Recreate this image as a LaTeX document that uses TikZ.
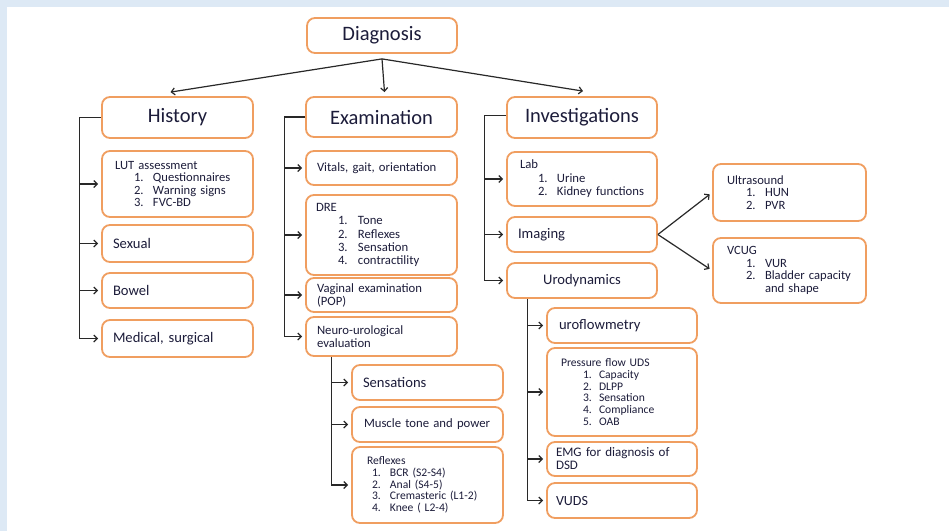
\documentclass[tikz,border=0pt]{standalone}
\usepackage{fontspec}
\setmainfont{Carlito}
\usetikzlibrary{arrows.meta,calc}
\definecolor{boxc}{RGB}{240,158,96}
\definecolor{txt}{RGB}{28,28,58}
\definecolor{lnc}{RGB}{40,40,40}
\definecolor{bgb}{RGB}{221,233,245}
\tikzset{
  box/.style={draw=boxc, line width=1.8pt, rounded corners=8pt, fill=white, text=txt, inner ysep=0pt, align=left},
  ctr/.style={align=center},
  ftitle/.style={font=\fontsize{20.5}{24}\selectfont},
  fmid/.style={font=\fontsize{14.6}{16}\selectfont},
  fsm/.style={font=\fontsize{12.7}{13}\selectfont},
  ftiny/.style={font=\fontsize{11.6}{11.7}\selectfont},
  conn/.style={draw=lnc, line width=1.2pt},
  arr/.style={conn, -{Straight Barb[length=3.5pt,width=7pt]}, shorten >=3pt}
}
\newcommand{\bx}[8][]{%
  \pgfmathsetmacro{\bw}{#5-#3}\pgfmathsetmacro{\bh}{#6-#4}%
  \pgfmathsetmacro{\bcx}{(#3+#5)/2}\pgfmathsetmacro{\bcy}{(#4+#6)/2}%
  \pgfmathsetmacro{\btw}{#5-#3-2*#7}%
  \node[box, minimum width=\bw pt, minimum height=\bh pt, inner xsep=#7pt, text width=\btw pt, #1] (#2) at (\bcx,\bcy) {#8};}
\newcommand{\itm}[4]{\hspace*{#1}\makebox[#2][l]{#3}\mbox{#4}}
\begin{document}
\begin{tikzpicture}[x=1pt,y=-1pt]
\useasboundingbox (0,0) rectangle (949,531);
\fill[white] (0,0) rectangle (949,531);
\fill[bgb] (0,0) rectangle (949,6.5);
\fill[bgb] (0,0) rectangle (7,531);

% top level
\bx[ctr,ftitle]{diag}{307}{18}{457}{53}{2}{Diagnosis}
\bx[ctr,ftitle]{hist}{102}{97}{253}{138}{2}{History}
\bx[ctr,ftitle]{exam}{306}{97}{457}{137}{2}{Examination}
\bx[ctr,ftitle]{inv}{507}{97}{657}{138}{2}{Investigations}

% history column
\bx[fsm,font=\fontsize{12.6}{12.4}\selectfont]{lut}{102}{151}{253}{217}{13}{LUT assessment\\
\itm{19pt}{19pt}{1.}{Questionnaires}\\
\itm{19pt}{19pt}{2.}{Warning signs}\\
\itm{19pt}{19pt}{3.}{FVC-BD}}
\bx[fmid]{sex}{102}{225}{253}{262}{11}{Sexual}
\bx[fmid]{bow}{102}{273}{253}{308}{11}{Bowel}
\bx[fmid]{med}{102}{320}{253}{357}{11}{Medical, surgical}

% examination column
\bx[fsm]{vit}{306}{151}{457}{185}{11}{Vitals, gait, orientation}
\bx[fsm,font=\fontsize{12.7}{13.4}\selectfont]{dre}{306}{195}{457}{275}{10}{DRE\\
\itm{22pt}{20pt}{1.}{Tone}\\
\itm{22pt}{20pt}{2.}{Reflexes}\\
\itm{22pt}{20pt}{3.}{Sensation}\\
\itm{22pt}{20pt}{4.}{contractility}}
\bx[fsm]{vag}{306}{278}{457}{312}{11}{Vaginal examination\\(POP)}
\bx[fsm]{neu}{306}{317}{457}{356}{11}{Neuro-urological\\evaluation}
\bx[fmid]{sen}{352}{365}{503}{400}{11}{Sensations}
\bx[fsm]{mus}{352}{407}{503}{442}{12}{Muscle tone and power}
\bx[ftiny]{ref}{352}{447}{503}{523}{15}{Reflexes\\
\itm{5pt}{18pt}{1.}{BCR (S2-S4)}\\
\itm{5pt}{18pt}{2.}{Anal (S4-5)}\\
\itm{5pt}{18pt}{3.}{Cremasteric (L1-2)}\\
\itm{5pt}{18pt}{4.}{Knee ( L2-4)}}

% investigations column
\bx[fsm,font=\fontsize{12.7}{13.4}\selectfont]{lab}{507}{152}{657}{206}{13}{Lab\\
\itm{18pt}{19pt}{1.}{Urine}\\
\itm{18pt}{19pt}{2.}{Kidney functions}}
\bx[fmid]{img}{507}{217}{657}{252}{11}{Imaging}
\bx[fmid,ctr]{uro}{507}{263}{657}{298}{4}{Urodynamics}
\bx[fsm,font=\fontsize{12.6}{12.6}\selectfont]{us}{713}{164}{866}{221}{14}{Ultrasound\\
\itm{19pt}{19pt}{1.}{HUN}\\
\itm{19pt}{19pt}{2.}{PVR}}
\bx[fsm,font=\fontsize{12.6}{12.7}\selectfont]{vcug}{713}{238}{866}{303}{14}{VCUG\\
\itm{19pt}{19pt}{1.}{VUR}\\
\itm{19pt}{19pt}{2.}{Bladder capacity}\\
\hspace*{38pt}and shape}
\bx[fmid]{ufl}{547}{308}{697}{343}{12}{uroflowmetry}
\bx[ftiny]{pfu}{547}{348}{697}{436}{14}{Pressure flow UDS\\
\itm{22pt}{16pt}{1.}{Capacity}\\
\itm{22pt}{16pt}{2.}{DLPP}\\
\itm{22pt}{16pt}{3.}{Sensation}\\
\itm{22pt}{16pt}{4.}{Compliance}\\
\itm{22pt}{16pt}{5.}{OAB}}
\bx[font=\fontsize{13}{13}\selectfont]{emg}{547}{442}{697}{476}{9}{EMG for diagnosis of\\DSD}
\bx[font=\fontsize{14}{15}\selectfont]{vuds}{547}{483}{697}{518}{9}{VUDS}

% diagnosis arrows
\coordinate (dC) at ($(diag.south)+(0,5)$);
\draw[arr,shorten >=0pt] (dC) -- ($(hist.north)+(-7,-4)$);
\draw[arr,shorten >=0pt] (dC) -- ($(exam.north)+(3,-4)$);
\draw[arr,shorten >=0pt] (dC) -- ($(inv.north)+(1,-5)$);

% history trunk
\draw[conn] (hist.west) -- ++(-22,0) coordinate (hT) -- (hT |- med.west);
\foreach \n in {lut,sex,bow,med} \draw[arr] (hT |- \n.west) -- (\n.west);

% examination trunk
\draw[conn] (exam.west) -- ++(-21,0) coordinate (eT) -- (eT |- neu.west);
\foreach \n in {vit,dre,vag,neu} \draw[arr] (eT |- \n.west) -- (\n.west);

% neuro trunk
\coordinate (nT) at ($(neu.south west)+(26,0)$);
\draw[conn] (nT) -- (nT |- ref.west);
\foreach \n in {sen,mus,ref} \draw[arr] (nT |- \n.west) -- (\n.west);

% investigations trunk
\draw[conn] ($(inv.west)+(0,-2)$) -- ++(-22,0) coordinate (iT) -- (iT |- uro.west);
\foreach \n in {lab,img,uro} \draw[arr] (iT |- \n.west) -- (\n.west);

% imaging branches
\draw[arr] (img.east) -- (us.west);
\draw[arr] (img.east) -- (vcug.west);

% urodynamics trunk
\coordinate (uT) at ($(uro.south west)+(21,0)$);
\draw[conn] (uT) -- (uT |- vuds.west);
\foreach \n in {ufl,pfu,emg,vuds} \draw[arr] (uT |- \n.west) -- (\n.west);
\end{tikzpicture}
\end{document}
